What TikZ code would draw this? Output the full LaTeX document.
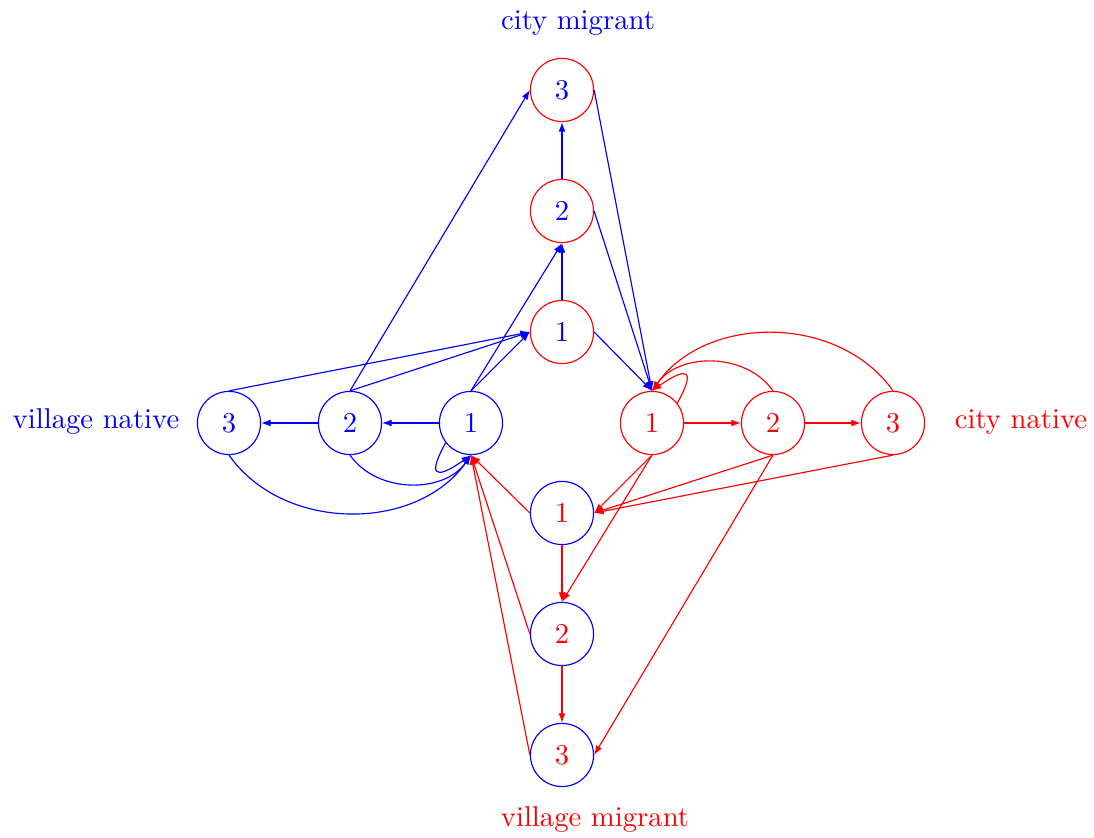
\documentclass[tikz,border=0pt]{standalone}
\usetikzlibrary{arrows.meta}
\begin{document}
\begin{tikzpicture}[x=0.3484pt,y=0.3484pt,
  vnat/.style={circle,draw=blue,text=blue,minimum size=22pt,inner sep=0pt},
  cnat/.style={circle,draw=red,text=red,minimum size=22pt,inner sep=0pt},
  cmig/.style={circle,draw=red,text=blue,minimum size=22pt,inner sep=0pt},
  vmig/.style={circle,draw=blue,text=red,minimum size=22pt,inner sep=0pt},
  arrowtip/.style={-{Latex[length=3.3pt,width=2.4pt]}},
  bluearc/.style={draw=blue,arrowtip},
  redarc/.style={draw=red,arrowtip},
  grouplabel/.style={inner sep=0pt}]
\useasboundingbox (0,0) rectangle (1094,838);

% village natives (left)
\node[vnat] (vn3) at (229,415) {3};
\node[vnat] (vn2) at (350,415) {2};
\node[vnat] (vn1) at (471,415) {1};
% city natives (right)
\node[cnat] (cn1) at (652,415) {1};
\node[cnat] (cn2) at (773,415) {2};
\node[cnat] (cn3) at (893,415) {3};
% city migrants (top)
\node[cmig] (cm1) at (562,506) {1};
\node[cmig] (cm2) at (562,627) {2};
\node[cmig] (cm3) at (562,748) {3};
% village migrants (bottom)
\node[vmig] (vm1) at (562,325) {1};
\node[vmig] (vm2) at (562,204) {2};
\node[vmig] (vm3) at (562,83) {3};

% group labels
\node[grouplabel,text=blue] (lvn) at (96,416) {village native};
\node[grouplabel,text=red] (lcn) at (1021,416) {city native};
\node[grouplabel,text=blue] (lcm) at (578,815) {city migrant};
\node[grouplabel,text=red] (lvm) at (595,18) {village migrant};

% blue transitions
\draw[bluearc] (vn1.west) -- (vn2.east);
\draw[bluearc] (vn2.west) -- (vn3.east);
\draw[bluearc] (vn1.north) -- (cm1.west);
\draw[bluearc] (vn1.north) -- (cm2.south);
\draw[bluearc] (vn2.north) -- (cm1.west);
\draw[bluearc] (vn2.north) -- (cm3.west);
\draw[bluearc] (vn3.north) -- (cm1.west);
\draw[bluearc] (vn2.south) to[bend right=55] (vn1.south);
\draw[bluearc] (vn3.south) to[bend right=55] (vn1.south);
\draw[bluearc] (vn1.-142) .. controls +(-119:34) and +(-145:48) .. (vn1.south);
\draw[bluearc] (cm1.north) -- (cm2.south);
\draw[bluearc] (cm2.north) -- (cm3.south);
\draw[bluearc] (cm1.east) -- (cn1.north);
\draw[bluearc] (cm2.east) -- (cn1.north);
\draw[bluearc] (cm3.east) -- (cn1.north);

% red transitions
\draw[redarc] (cn1.east) -- (cn2.west);
\draw[redarc] (cn2.east) -- (cn3.west);
\draw[redarc] (cn2.north) to[bend right=55] (cn1.north);
\draw[redarc] (cn3.north) to[bend right=55] (cn1.north);
\draw[redarc] (cn1.38) .. controls +(61:34) and +(35:48) .. (cn1.north);
\draw[redarc] (cn1.south) -- (vm1.east);
\draw[redarc] (cn2.south) -- (vm1.east);
\draw[redarc] (cn3.south) -- (vm1.east);
\draw[redarc] (cn1.south) -- (vm2.north);
\draw[redarc] (cn2.south) -- (vm3.east);
\draw[redarc] (vm1.south) -- (vm2.north);
\draw[redarc] (vm2.south) -- (vm3.north);
\draw[redarc] (vm1.west) -- (vn1.south);
\draw[redarc] (vm2.west) -- (vn1.south);
\draw[redarc] (vm3.west) -- (vn1.south);
\end{tikzpicture}
\end{document}
